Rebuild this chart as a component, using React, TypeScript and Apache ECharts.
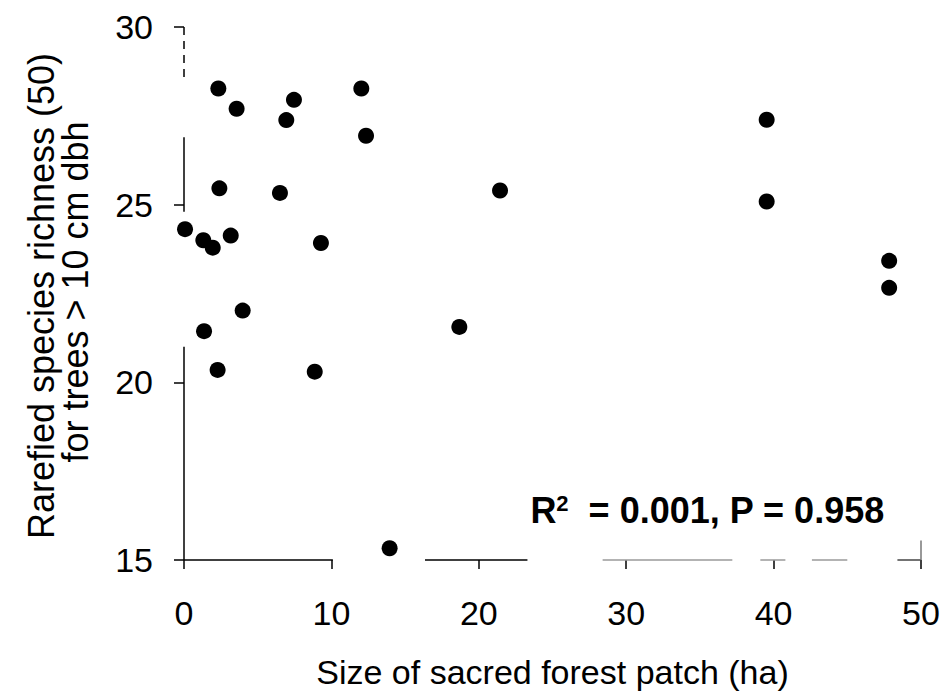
import React, { useEffect, useRef } from "react";
import * as echarts from "echarts";

const patchSize = [0.07, 1.31, 1.95, 2.33, 3.17, 3.57, 2.40, 1.36, 2.28, 3.98, 6.51, 6.94, 7.46, 8.87, 9.29, 12.03, 12.35, 13.95, 18.68, 21.44, 39.53, 39.53, 47.84, 47.84];
const richness = [24.31, 24.0, 23.79, 28.27, 24.13, 27.70, 25.46, 21.44, 20.35, 22.02, 25.33, 27.38, 27.95, 20.30, 23.92, 28.27, 26.94, 15.33, 21.56, 25.40, 27.39, 25.09, 23.42, 22.66];

const xTicks = [0, 10, 20, 30, 40, 50];
const yTicks = [15, 20, 25, 30];

// visible pieces of the (scanned, broken) axis lines, in data units
const yAxisPieces = [[30, 28.44, "dashed"], [26.9, 24.8, "solid"], [21.0, 15, "solid"]];
const xAxisPieces = [[0, 10.1, "#000"], [16.35, 23.3, "#000"], [28.4, 37.2, "#9a9a9a"], [39.1, 40.8, "#9a9a9a"], [42.6, 45.0, "#9a9a9a"], [48.4, 50, "#444"]];

const xName = "Size of sacred forest patch (ha)";
const yName1 = "Rarefied species richness (50)";
const yName2 = "for trees > 10 cm dbh";
const annotation = "{b|R}{sup|2}{b|  = 0.001, P = 0.958}";

const FONT = "'Liberation Sans', Arial, Helvetica, sans-serif";
const FS = 34;
const FS_Y = 36;

export default function App() {
  const ref = useRef<HTMLDivElement>(null);
  useEffect(() => {
    document.body.style.margin = "0";
    if (!ref.current) return;
    const chart = echarts.init(ref.current, undefined, { renderer: "svg" });
    const pts = patchSize.map((x, i) => [x, richness[i]]);
    const segs: any[] = [];
    yAxisPieces.forEach(([a, b, t]) => {
      segs.push([
        { coord: [0, a], lineStyle: { color: "#000", width: 1.5, type: t === "dashed" ? [8, 6] : "solid" } },
        { coord: [0, b] },
      ]);
    });
    xAxisPieces.forEach(([a, b, c]) => {
      segs.push([
        { coord: [a, 15], lineStyle: { color: c as string, width: 1.5, type: "solid" } },
        { coord: [b, 15] },
      ]);
    });
    segs.push([
      { coord: [50, 15], lineStyle: { color: "#777", width: 1.5, type: "solid" } },
      { coord: [50, 15.55] },
    ]);
    chart.setOption({
      animation: false,
      backgroundColor: "#fff",
      textStyle: { fontFamily: FONT },
      grid: { left: 184, right: 22, top: 27, bottom: 130 },
      xAxis: {
        type: "value",
        min: xTicks[0],
        max: xTicks[xTicks.length - 1],
        interval: 10,
        axisLine: { show: false },
        axisTick: { show: true, inside: false, length: 9, lineStyle: { color: "#000", width: 1.5 } },
        splitLine: { show: false },
        axisLabel: { color: "#000", fontSize: FS, fontFamily: FONT, margin: 36 },
        name: xName,
        nameLocation: "middle",
        nameGap: 95,
        nameTextStyle: { color: "#000", fontSize: FS, fontFamily: FONT },
      },
      yAxis: {
        type: "value",
        min: yTicks[0],
        max: yTicks[yTicks.length - 1],
        interval: 5,
        axisLine: { show: false },
        axisTick: { show: true, inside: false, length: 10, lineStyle: { color: "#000", width: 1.5 } },
        splitLine: { show: false },
        axisLabel: { color: "#000", fontSize: FS, fontFamily: FONT, margin: 31 },
      },
      graphic: [
        {
          type: "text",
          x: 41,
          y: 296,
          rotation: Math.PI / 2,
          style: { text: yName1, fontSize: FS_Y, fontFamily: FONT, fill: "#000", align: "center", verticalAlign: "middle" },
        },
        {
          type: "text",
          x: 75,
          y: 292,
          rotation: Math.PI / 2,
          style: { text: yName2, fontSize: FS_Y, fontFamily: FONT, fill: "#000", align: "center", verticalAlign: "middle" },
        },
      ],
      series: [
        {
          type: "scatter",
          data: pts,
          symbol: "circle",
          symbolSize: 16,
          itemStyle: { color: "#000", opacity: 1 },
          markLine: {
            silent: true,
            symbol: ["none", "none"],
            label: { show: false },
            data: segs,
          },
          markPoint: {
            silent: true,
            symbol: "rect",
            symbolSize: 0,
            data: [{ coord: [23.5, 16.38] }],
            label: {
              show: true,
              position: "right",
              distance: 0,
              formatter: annotation,
              rich: {
                b: { fontSize: 36, fontWeight: "bold", fontFamily: FONT, color: "#000" },
                sup: { fontSize: 22, fontWeight: "bold", fontFamily: FONT, color: "#000", verticalAlign: "bottom", padding: [0, 0, 15, 0] },
              },
            },
          },
        },
      ],
    });
    return () => chart.dispose();
  }, []);
  return <div ref={ref} style={{ width: 943, height: 694 }} />;
}
